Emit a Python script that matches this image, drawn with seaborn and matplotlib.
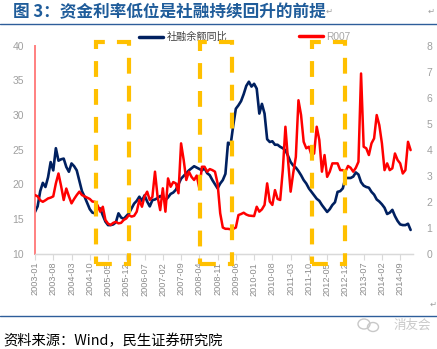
import matplotlib
matplotlib.use("Agg")
import matplotlib.pyplot as plt
from matplotlib.patches import Rectangle, Ellipse
from matplotlib.lines import Line2D
import seaborn as sns
import pandas as pd

# ---------------- data ----------------
months = pd.date_range("2003-01-01", "2015-01-01", freq="MS").strftime("%Y-%m").tolist()

tsf_yoy = [16.0, 16.8, 19.0, 20.2, 19.6, 21.0, 23.2, 22.0, 25.2, 23.4,
           23.6, 23.7, 22.5, 21.8, 23.0, 22.6, 22.0, 20.5, 19.0, 18.2,
           17.3, 16.4, 15.9, 15.8, 16.5, 16.5, 15.5, 14.6, 14.1, 14.1,
           14.2, 14.5, 15.8, 15.2, 15.0, 15.4, 15.8, 16.5, 17.2, 17.6,
           18.2, 17.6, 18.4, 17.5, 16.8, 17.7, 17.8, 18.0, 18.3, 18.0,
           17.7, 18.1, 18.6, 18.8, 19.2, 20.0, 20.8, 21.2, 21.6, 22.0,
           22.3, 22.6, 22.4, 22.2, 22.0, 22.3, 21.6, 21.3, 20.6, 20.0,
           19.4, 20.1, 20.6, 21.5, 26.0, 25.7, 28.5, 30.9, 31.4, 32.0,
           33.0, 34.2, 34.8, 34.1, 34.5, 33.8, 30.2, 31.6, 30.2, 26.5,
           26.1, 26.2, 25.7, 25.7, 25.4, 25.2, 24.9, 24.1, 23.2, 22.7,
           22.4, 21.9, 21.3, 20.6, 20.1, 19.4, 18.9, 18.4, 17.9, 17.6,
           17.0, 16.5, 16.0, 16.4, 17.0, 17.4, 18.9, 19.0, 19.4, 20.9,
           20.9, 20.9, 21.1, 21.7, 21.4, 20.3, 19.8, 19.6, 19.5, 18.9,
           18.5, 17.8, 17.5, 17.1, 16.6, 15.7, 15.9, 16.3, 15.4, 14.7,
           14.2, 14.1, 14.1, 14.3, 13.4]

r007 = [2.25, 2.20, 2.05, 1.99, 2.05, 2.12, 2.15, 2.20, 2.70, 3.08,
        2.60, 2.06, 2.50, 2.20, 1.93, 2.10, 2.25, 2.38, 2.25, 2.20,
        2.15, 2.10, 2.00, 1.99, 1.85, 1.61, 1.80, 1.29, 1.15, 1.10,
        1.18, 1.22, 1.16, 1.18, 1.29, 1.35, 1.48, 1.42, 1.45, 1.61,
        2.06, 1.80, 2.20, 2.38, 2.06, 2.18, 3.15, 2.18, 1.67, 2.51,
        1.61, 2.89, 2.57, 2.75, 2.70, 2.32, 4.24, 3.60, 2.83, 3.15,
        2.95, 2.83, 3.00, 2.51, 3.34, 3.34, 3.15, 3.25, 3.21, 3.15,
        2.70, 1.55, 1.00, 0.95, 0.95, 0.93, 0.95, 1.00, 1.48, 1.52,
        1.57, 1.50, 1.46, 1.45, 1.44, 1.80, 1.61, 1.70, 1.87, 2.70,
        2.00, 1.87, 2.44, 2.10, 2.06, 3.21, 4.88, 3.60, 2.38, 3.10,
        3.72, 5.90, 5.33, 4.30, 4.05, 4.11, 3.79, 3.85, 4.88, 4.37,
        3.15, 3.79, 2.95, 3.15, 3.47, 3.47, 3.47, 3.21, 3.21, 3.15,
        3.37, 3.30, 3.15, 3.30, 3.53, 6.93, 4.11, 4.05, 3.79, 4.24,
        4.43, 5.33, 4.94, 4.24, 3.21, 3.47, 3.21, 3.28, 3.85, 3.60,
        3.47, 3.08, 3.21, 4.30, 3.98]

left_ticks = [10, 15, 20, 25, 30, 35, 40]
right_ticks = [0, 1, 2, 3, 4, 5, 6, 7, 8]
tick_step = 7
# highlighted periods (month index start, end)
highlight_periods = [(23.4, 36.1), (63.2, 75.7), (106.3, 118.9)]

series_names = ["社融余额同比", "R007"]
title = "图 3：资金利率低位是社融持续回升的前提"
source = "资料来源：Wind，民生证券研究院"

# ---------------- style ----------------
sns.set_style("white")
plt.rcParams["font.family"] = ["Liberation Sans", "Noto Sans CJK SC", "DejaVu Sans"]

df = pd.DataFrame({"idx": range(len(months)), "month": months,
                   "tsf": tsf_yoy, "r007": r007})

W, H = 437, 349
fig = plt.figure(figsize=(W / 100, H / 100), dpi=100)
x0, x1, y0, y1 = 35, 412.7, 253.5, 45.7
ax = fig.add_axes([x0 / W, 1 - y0 / H, (x1 - x0) / W, (y0 - y1) / H])
ax2 = ax.twinx()

navy = "#002060"
red = "#FF0000"
sns.lineplot(data=df, x="idx", y="tsf", ax=ax, color=navy, lw=1.9)
sns.lineplot(data=df, x="idx", y="r007", ax=ax2, color=red, lw=1.8)

ax.set_xlim(0, 144.8)
ax.set_ylim(10, 40)
ax2.set_ylim(0, 8)
ax.set_yticks(left_ticks)
ax2.set_yticks(right_ticks)
xt = list(range(0, len(months), tick_step))
ax.set_xticks(xt)
ax.set_xticklabels([months[i] for i in xt], rotation=90, fontsize=6.6, color="#8C8C8C")
ax.tick_params(axis="y", length=0, pad=8, labelsize=7.5, labelcolor="#A0A0A0")
ax2.tick_params(axis="y", length=0, pad=10, labelsize=7.5, labelcolor="#A0A0A0")
ax.tick_params(axis="x", length=4, width=0.8, color="#D9D9D9", pad=2, bottom=True)
for a in (ax, ax2):
    a.set_xlabel("")
    a.set_ylabel("")
    a.grid(False)
    for s in ("top", "right"):
        a.spines[s].set_visible(False)
    a.spines["bottom"].set_color("#D9D9D9")
    a.spines["bottom"].set_linewidth(0.9)
ax.spines["left"].set_color("#FF8080")
ax.spines["left"].set_linewidth(1.4)
ax2.spines["left"].set_visible(False)

# highlight boxes
for s, e in highlight_periods:
    rect = Rectangle((s, 8.5), e - s, 40.5 - 8.5, transform=ax.transData,
                     fill=False, edgecolor="#FFC000", lw=3.0,
                     linestyle=(0, (3.8, 2.9)), clip_on=False, zorder=10)
    fig.add_artist(rect)

# legends
h1 = Line2D([], [], color=navy, lw=2.5)
h2 = Line2D([], [], color=red, lw=2.5)
leg1 = fig.legend([h1], [series_names[0]], loc="center left",
                  bbox_to_anchor=(130 / W, 1 - 37 / H), frameon=False,
                  fontsize=7.3, handlelength=2.4, handletextpad=0.3,
                  labelcolor="#404040")
leg2 = fig.legend([h2], [series_names[1]], loc="center left",
                  bbox_to_anchor=(290 / W, 1 - 37 / H), frameon=False,
                  fontsize=7.3, handlelength=2.4, handletextpad=0.3,
                  labelcolor="#A6A6A6")

# title, rules, source
fig.text(13 / W, 1 - 12 / H, title, fontsize=12, fontweight="bold",
         color="#1F5C9A", va="center", ha="left",
         family=["Noto Sans CJK SC", "DejaVu Sans"])
fig.text(326 / W, 1 - 12 / H, "↵", fontsize=6, color="#A0A0A0", va="center")
fig.text(428 / W, 1 - 12 / H, "↵", fontsize=6, color="#A0A0A0", va="center")
fig.text(430 / W, 1 - 305 / H, "↵", fontsize=6, color="#A0A0A0", va="center")
fig.add_artist(Line2D([0, 1], [1 - 23.5 / H, 1 - 23.5 / H], color="#2E5E9A", lw=1.0))
fig.add_artist(Line2D([0, 1], [1 - 315.5 / H, 1 - 315.5 / H], color="#2E5E9A", lw=1.0))
fig.text(3 / W, 1 - 341 / H, source, fontsize=10.3, color="black", va="center",
         ha="left", family=["Noto Sans CJK SC", "DejaVu Sans"])
# watermark: chat bubbles + name
fig.add_artist(Ellipse((364 / W, 1 - 324 / H), 12 / W, 10 / H, fill=False,
                       edgecolor="#C8C8C8", lw=1.0))
fig.add_artist(Ellipse((373 / W, 1 - 327 / H), 11 / W, 9 / H, fill=False,
                       edgecolor="#C8C8C8", lw=1.0))
fig.text(394 / W, 1 - 325 / H, "消友会", fontsize=9, color="#C8C8C8",
         va="center", ha="left", family=["Noto Sans CJK SC", "DejaVu Sans"])

fig.savefig("out.png", dpi=100)
